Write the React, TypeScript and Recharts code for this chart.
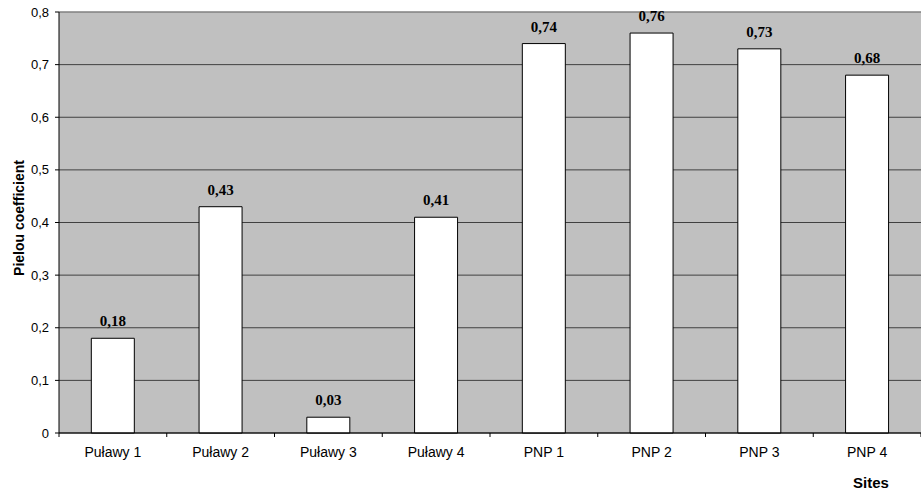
import React from 'react';
import {
  Bar,
  BarChart,
  CartesianGrid,
  LabelList,
  ReferenceLine,
  XAxis,
  YAxis,
} from 'recharts';

const sites = ['Puławy 1', 'Puławy 2', 'Puławy 3', 'Puławy 4', 'PNP 1', 'PNP 2', 'PNP 3', 'PNP 4'];
const pielou = [0.18, 0.43, 0.03, 0.41, 0.74, 0.76, 0.73, 0.68];
const yTicks = [0, 0.1, 0.2, 0.3, 0.4, 0.5, 0.6, 0.7, 0.8];

const data = sites.map((site, i) => ({ site, value: pielou[i] }));

const WIDTH = 921;
const HEIGHT = 492;
const LEFT = 59;
const BAND = (WIDTH - LEFT) / sites.length;

const comma = (v: number, digits: number) => (v === 0 ? '0' : v.toFixed(digits).replace('.', ','));

const SiteTick = (props: any) => {
  const { x, y, payload, index } = props;
  const top = y - 14;
  return (
    <g>
      <line x1={x - BAND / 2} y1={top} x2={x - BAND / 2} y2={top + 4} stroke="#000" />
      {index === sites.length - 1 && (
        <line x1={x + BAND / 2} y1={top} x2={x + BAND / 2} y2={top + 4} stroke="#000" />
      )}
      <text
        x={x}
        y={y}
        dy="0.71em"
        textAnchor="middle"
        fill="#000"
        fontFamily="Liberation Sans, Arial, sans-serif"
        fontSize={14}
      >
        {payload.value}
      </text>
    </g>
  );
};

export default function App() {
  return (
    <div style={{ position: 'absolute', left: 0, top: 0, width: WIDTH, height: HEIGHT, background: '#fff' }}>
      <BarChart
        width={WIDTH}
        height={HEIGHT}
        data={data}
        margin={{ top: 12, right: 0, left: 0, bottom: 0 }}
        barCategoryGap="30%"
      >
        <CartesianGrid vertical={false} fill="#C0C0C0" stroke="#404040" />
        <ReferenceLine y={0.8} stroke="#A0A0A0" />
        <XAxis
          dataKey="site"
          height={59}
          stroke="#000"
          tickLine={false}
          tickSize={4}
          tickMargin={10}
          interval={0}
          tick={<SiteTick />}
        />
        <YAxis
          width={LEFT}
          domain={[0, 0.8]}
          ticks={yTicks}
          stroke="#000"
          tickSize={4}
          tickMargin={6}
          tickFormatter={(v: number) => comma(v, 1)}
          tick={{ fill: '#000', fontSize: 13, fontFamily: 'Liberation Sans, Arial, sans-serif' }}
        />
        <Bar dataKey="value" fill="#fff" stroke="#000" strokeWidth={1} isAnimationActive={false}>
          <LabelList
            dataKey="value"
            position="top"
            offset={12}
            formatter={(v: any) => comma(Number(v), 2)}
            style={{ fill: '#000', fontSize: 15, fontWeight: 'bold', fontFamily: 'Liberation Serif, Times New Roman, serif' }}
          />
        </Bar>
      </BarChart>
      <svg
        width={WIDTH}
        height={HEIGHT}
        style={{ position: 'absolute', left: 0, top: 0, pointerEvents: 'none' }}
      >
        <text
          transform="translate(24, 218) rotate(-90)"
          textAnchor="middle"
          fontFamily="Liberation Sans, Arial, sans-serif"
          fontWeight="bold"
          fontSize={14}
          fill="#000"
        >
          Pielou coefficient
        </text>
        <text
          x={871}
          y={488}
          textAnchor="middle"
          fontFamily="Liberation Sans, Arial, sans-serif"
          fontWeight="bold"
          fontSize={15}
          fill="#000"
        >
          Sites
        </text>
      </svg>
    </div>
  );
}
